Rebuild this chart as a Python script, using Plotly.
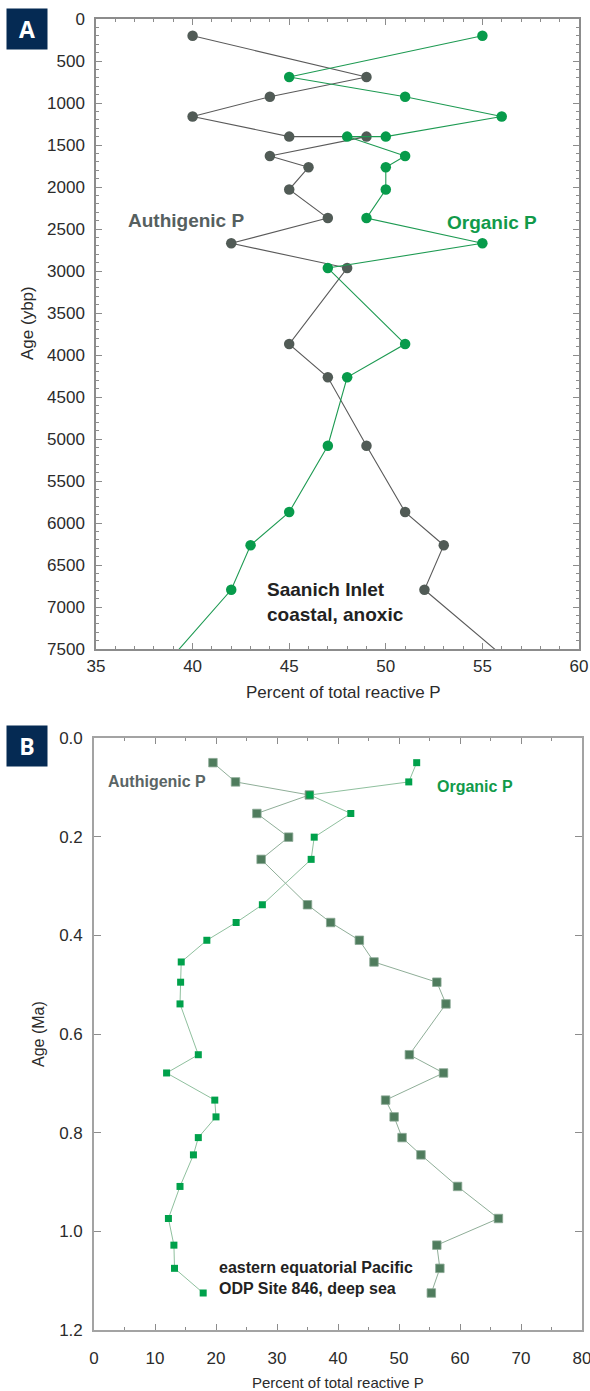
import plotly.graph_objects as go

W, H = 590, 1391

# ---------------- Panel A: Saanich Inlet ----------------
age_a = [200, 690, 925, 1160, 1400, 1400, 1630, 1765, 2030, 2370, 2670, 2965, 3870, 4265, 5080, 5870, 6265, 6795, 8000]
auth_a = [40, 49, 44, 40, 45, 49, 44, 46, 45, 47, 42, 48, 45, 47, 49, 51, 53, 52, 58.2]
org_a = [55, 45, 51, 56, 50, 48, 51, 50, 50, 49, 55, 47, 51, 48, 47, 45, 43, 42, 37.4]

# ---------------- Panel B: ODP Site 846 ----------------
age_b = [0.05, 0.089, 0.1155, 0.153, 0.201, 0.246, 0.338, 0.374, 0.41, 0.454, 0.495, 0.539,
         0.642, 0.679, 0.734, 0.768, 0.81, 0.845, 0.909, 0.974, 1.028, 1.075, 1.125]
auth_b = [19.5, 23.2, 35.3, 26.7, 31.9, 27.4, 35.0, 38.8, 43.5, 45.9, 56.2, 57.7,
          51.7, 57.3, 47.8, 49.2, 50.5, 53.6, 59.6, 66.3, 56.2, 56.7, 55.3]
org_b = [52.9, 51.6, 35.4, 42.1, 36.1, 35.6, 27.6, 23.3, 18.5, 14.3, 14.2, 14.1,
         17.1, 11.9, 19.8, 20.0, 17.1, 16.3, 14.1, 12.2, 13.1, 13.2, 17.9]

xticks_a = [35, 40, 45, 50, 55, 60]
yticks_a = list(range(0, 7501, 500))
xticks_b = [0, 10, 20, 30, 40, 50, 60, 70, 80]
yticks_b = [0.0, 0.2, 0.4, 0.6, 0.8, 1.0, 1.2]
yticklabels_b = ["0.0", "0.2", "0.4", "0.6", "0.8", "1.0", "1.2"]

GRAY = "#515b56"
GREEN = "#079b4b"
B_AUTH = "#4f7c5d"
B_ORG = "#00a14b"
FONT = "Liberation Sans, Arial, sans-serif"

def px(x):
    return x / W

def py(y):
    return 1 - y / H

fig = go.Figure()

fig.add_trace(go.Scatter(x=auth_a, y=age_a, mode="lines+markers", xaxis="x", yaxis="y",
                         line=dict(color="#5a5a5a", width=1.1),
                         marker=dict(symbol="circle", size=10.5, color=GRAY, line=dict(width=0)),
                         showlegend=False))
fig.add_trace(go.Scatter(x=org_a, y=age_a, mode="lines+markers", xaxis="x", yaxis="y",
                         line=dict(color="#1d9a52", width=1.1),
                         marker=dict(symbol="circle", size=10.5, color=GREEN, line=dict(width=0)),
                         showlegend=False))

fig.add_trace(go.Scatter(x=auth_b, y=age_b, mode="lines+markers", xaxis="x2", yaxis="y2",
                         line=dict(color="#8fae98", width=1),
                         marker=dict(symbol="square", size=8.5, color=B_AUTH,
                                     line=dict(width=0.8, color="#8aa894")),
                         showlegend=False))
fig.add_trace(go.Scatter(x=org_b, y=age_b, mode="lines+markers", xaxis="x2", yaxis="y2",
                         line=dict(color="#8fc09e", width=1),
                         marker=dict(symbol="square", size=7, color=B_ORG, line=dict(width=0)),
                         showlegend=False))

axA = dict(showline=True, linecolor="#8c8c8c", linewidth=1.5, mirror="ticks",
           ticks="inside", tickcolor="#8c8c8c", showgrid=False, zeroline=False, automargin=False,
           ticklabeloverflow="allow",
           tickfont=dict(family=FONT, size=17, color="#2b2b2b"))
axB = dict(showline=True, linecolor="#a3a3a3", linewidth=1.6, mirror="ticks",
           ticks="inside", tickcolor="#8c8c8c", showgrid=False, zeroline=False, automargin=False,
           ticklabeloverflow="allow",
           tickfont=dict(family=FONT, size=17, color="#2b2b2b"))

fig.update_layout(
    template="none",
    width=W, height=H, margin=dict(l=0, r=0, t=0, b=0, pad=0, autoexpand=False),
    paper_bgcolor="white", plot_bgcolor="white",
    font=dict(family=FONT),
    xaxis=dict(domain=[px(96), px(579)], anchor="y", range=[35, 60],
               tickvals=xticks_a, ticklen=6, ticklabelstandoff=1,
               minor=dict(dtick=1, ticks="inside", ticklen=3, tickcolor="#8c8c8c"), **axA),
    yaxis=dict(domain=[py(649), py(19)], anchor="x", range=[7500, 0],
               tickvals=yticks_a, ticklen=6, ticklabelstandoff=6,
               minor=dict(dtick=100, ticks="inside", ticklen=3, tickcolor="#8c8c8c"), **axA),
    xaxis2=dict(domain=[px(94), px(582)], anchor="y2", range=[0, 80],
                tickvals=xticks_b, ticklen=6, ticklabelstandoff=12,
                minor=dict(dtick=5, ticks="inside", ticklen=3, tickcolor="#8c8c8c"), **axB),
    yaxis2=dict(domain=[py(1330), py(738)], anchor="x2", range=[1.2, 0],
                tickvals=yticks_b, ticktext=yticklabels_b, ticklen=7, ticklabelstandoff=6, **axB),
)

def pann(text, x, y, size, color="#2b2b2b", angle=0, **kw):
    return dict(text=text, x=px(x), y=py(y), xref="paper", yref="paper", textangle=angle,
                xanchor="center", yanchor="middle", showarrow=False,
                font=dict(size=size, color=color, family=kw.pop("family", FONT)), **kw)

ann = []
# axis titles
ann.append(pann("Age (ybp)", 27, 323, 17, angle=-90))
ann.append(pann("Percent of total reactive P", 343, 692, 17))
ann.append(pann("Age (Ma)", 38, 1034, 16, angle=-90))
ann.append(pann("Percent of total reactive P", 338, 1382, 15))
# series labels A
ann.append(dict(text="<b>Authigenic P</b>", x=39.68, y=2393, xref="x", yref="y", showarrow=False,
                xanchor="center", yanchor="middle",
                font=dict(size=19, color="#56605f", family=FONT)))
ann.append(dict(text="<b>Organic P</b>", x=55.52, y=2417, xref="x", yref="y", showarrow=False,
                xanchor="center", yanchor="middle",
                font=dict(size=19, color="#119a4a", family=FONT)))
ann.append(dict(text="<b>Saanich Inlet<br>coastal, anoxic</b>", x=43.76, y=6940, xref="x", yref="y",
                showarrow=False, xanchor="left", yanchor="middle", align="left",
                font=dict(size=19, color="#222222", family=FONT)))
# series labels B
ann.append(dict(text="<b>Authigenic P</b>", x=10.4, y=0.0885, xref="x2", yref="y2", showarrow=False,
                xanchor="center", yanchor="middle",
                font=dict(size=16, color="#5a6565", family=FONT)))
ann.append(dict(text="<b>Organic P</b>", x=62.4, y=0.0987, xref="x2", yref="y2", showarrow=False,
                xanchor="center", yanchor="middle",
                font=dict(size=16, color="#119a4a", family=FONT)))
ann.append(dict(text="<b>eastern equatorial Pacific<br>ODP Site 846, deep sea</b>", x=20.2, y=1.0946,
                xref="x2", yref="y2", showarrow=False, xanchor="left", yanchor="middle", align="left",
                font=dict(size=16, color="#222222", family=FONT)))
# panel badges (letters on navy boxes)
ann.append(pann("<b>A</b>", 27, 29, 23, color="white", bgcolor="#052a53", width=40, height=40,
                borderpad=0, family="Open Sans, Arial, sans-serif"))
ann.append(pann("<b>B</b>", 27, 746, 23, color="white", bgcolor="#052a53", width=40, height=40,
                borderpad=0, family="Open Sans, Arial, sans-serif"))
fig.update_layout(annotations=ann)

fig.write_html("out.html", config={"displayModeBar": False},
               post_script="document.body.style.margin='0';document.body.style.padding='0';")
